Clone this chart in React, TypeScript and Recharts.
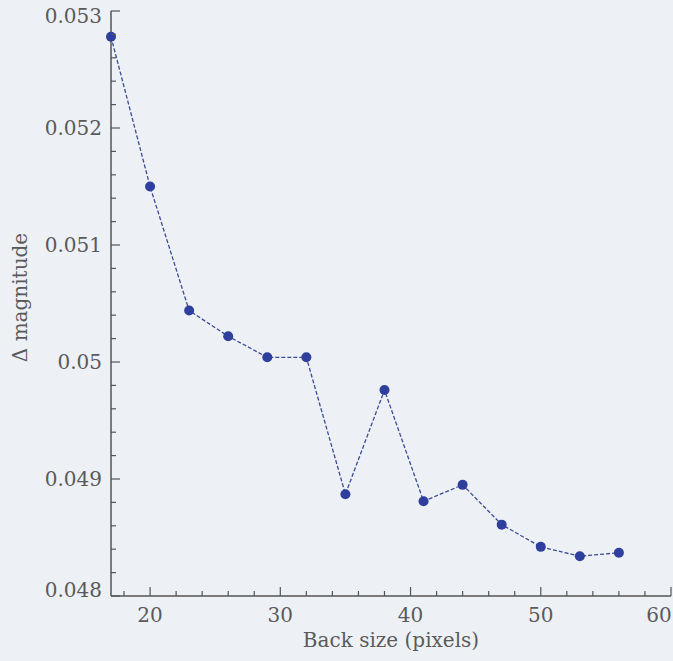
import { LineChart, Line, XAxis, YAxis } from 'recharts';

// back size (pixels) vs delta magnitude
const backSize = [17, 20, 23, 26, 29, 32, 35, 38, 41, 44, 47, 50, 53, 56];
const deltaMag = [
  0.05278, 0.0515, 0.05044, 0.05022, 0.05004, 0.05004, 0.04887, 0.04976, 0.04881, 0.04895, 0.04861,
  0.04842, 0.04834, 0.04837,
];

const xTicks = Array.from({ length: 22 }, (_, i) => 18 + i * 2);
const yTicks = Array.from({ length: 26 }, (_, i) => +(0.048 + i * 0.0002).toFixed(4));

const data = backSize.map((x, i) => ({ x, y: deltaMag[i] }));

const AXIS = '#555';
const TEXT = '#5a5a5a';
const FONT = '"DejaVu Serif", serif';
const MAJOR = 9;
const MINOR = 5;

const isMajorX = (v: number) => v % 10 === 0;
const isMajorY = (v: number) => Math.round(v * 10000) % 10 === 0;

function BottomTick(props: any) {
  const { x, y, payload } = props;
  const v = payload.value;
  const major = isMajorX(v);
  const dx = v === 60 ? -12 : 0;
  return (
    <g>
      <line x1={x} x2={x} y1={y} y2={y - (major ? MAJOR : MINOR)} stroke={AXIS} strokeWidth={1.2} />
      {major && (
        <text x={x + dx} y={y + 26} textAnchor="middle" fill={TEXT} fontSize={20} fontFamily={FONT}>
          {v}
        </text>
      )}
    </g>
  );
}

function TopTick(props: any) {
  const { x, y, payload } = props;
  const major = isMajorX(payload.value);
  return <line x1={x} x2={x} y1={y} y2={y + (major ? MAJOR : MINOR)} stroke={AXIS} strokeWidth={1.2} />;
}

function LeftTick(props: any) {
  const { x, y, payload } = props;
  const v = payload.value;
  const major = isMajorY(v);
  let dy = 7;
  if (v >= 0.053) dy = 12;
  if (v <= 0.048) dy = 1;
  return (
    <g>
      <line x1={x} x2={x + (major ? MAJOR : MINOR)} y1={y} y2={y} stroke={AXIS} strokeWidth={1.2} />
      {major && (
        <text x={x - 9} y={y + dy} textAnchor="end" fill={TEXT} fontSize={20} fontFamily={FONT}>
          {String(+v.toFixed(3))}
        </text>
      )}
    </g>
  );
}

function RightTick(props: any) {
  const { x, y, payload } = props;
  const major = isMajorY(payload.value);
  return <line x1={x} x2={x - (major ? MAJOR : MINOR)} y1={y} y2={y} stroke={AXIS} strokeWidth={1.2} />;
}

export default function App() {
  return (
    <div style={{ position: 'absolute', left: 0, top: 0, width: 673, height: 661, background: '#edf0f5' }}>
      <LineChart width={673} height={661} data={data} margin={{ top: 11, right: 2, left: 0, bottom: 0 }}>
        <XAxis
          xAxisId="bottom"
          dataKey="x"
          type="number"
          domain={[17, 60]}
          ticks={xTicks}
          interval={0}
          height={65}
          tickSize={0}
          tickMargin={0}
          tickLine={false}
          tick={(p: any) => <BottomTick {...p} />}
          axisLine={{ stroke: AXIS, strokeWidth: 1.5 }}
          label={{ value: 'Back size (pixels)', position: 'insideBottom', offset: 14, fill: TEXT, fontSize: 20, fontFamily: FONT }}
        />
        <XAxis
          xAxisId="top"
          orientation="top"
          dataKey="x"
          type="number"
          domain={[17, 60]}
          ticks={xTicks}
          interval={0}
          height={0}
          tickSize={0}
          tickMargin={0}
          tickLine={false}
          tick={(p: any) => <TopTick {...p} />}
          axisLine={{ stroke: AXIS, strokeWidth: 1.5 }}
        />
        <YAxis
          yAxisId="left"
          type="number"
          domain={[0.048, 0.053]}
          ticks={yTicks}
          interval={0}
          width={111}
          tickSize={0}
          tickMargin={0}
          tickLine={false}
          tick={(p: any) => <LeftTick {...p} />}
          axisLine={{ stroke: AXIS, strokeWidth: 1.5 }}
          label={{ value: 'Δ magnitude', angle: -90, position: 'insideLeft', offset: 20, dy: -6, fill: TEXT, fontSize: 20, fontFamily: FONT, textAnchor: 'middle' }}
        />
        <YAxis
          yAxisId="right"
          orientation="right"
          type="number"
          domain={[0.048, 0.053]}
          ticks={yTicks}
          interval={0}
          width={0}
          tickSize={0}
          tickMargin={0}
          tickLine={false}
          tick={(p: any) => <RightTick {...p} />}
          axisLine={{ stroke: AXIS, strokeWidth: 1.5 }}
        />
        <Line
          xAxisId="bottom"
          yAxisId="left"
          dataKey="y"
          stroke="#3d4b94"
          strokeWidth={1.3}
          strokeDasharray="4 2"
          dot={{ r: 5, fill: '#2e3f9e', stroke: 'none' }}
          isAnimationActive={false}
        />
      </LineChart>
    </div>
  );
}
